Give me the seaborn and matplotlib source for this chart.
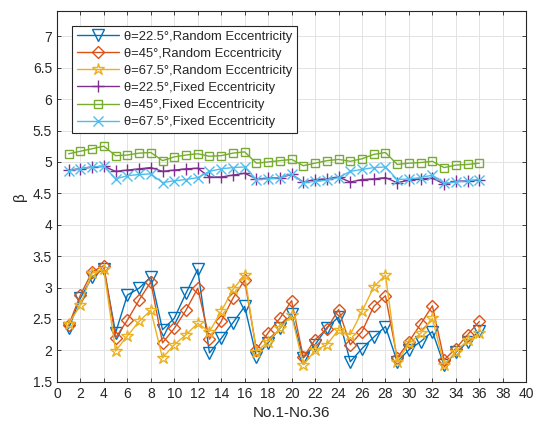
import numpy as np
import pandas as pd
import matplotlib
matplotlib.use("Agg")
import matplotlib.pyplot as plt
import seaborn as sns

# sample index No.1 - No.36
sample_no = list(range(1, 37))

rand_22 = [2.35, 2.83, 3.17, 3.30, 2.28, 2.88, 2.99, 3.17, 2.33, 2.51, 2.91, 3.29,
           1.96, 2.19, 2.44, 2.70, 1.90, 2.12, 2.35, 2.58, 1.88, 2.09, 2.36, 2.53,
           1.82, 2.03, 2.21, 2.38, 1.82, 2.01, 2.14, 2.30, 1.76, 1.97, 2.13, 2.31]
rand_45 = [2.40, 2.88, 3.25, 3.35, 2.20, 2.48, 2.80, 3.09, 2.12, 2.35, 2.64, 2.99,
           2.18, 2.46, 2.83, 3.12, 2.01, 2.28, 2.51, 2.79, 1.89, 2.17, 2.34, 2.65,
           2.09, 2.30, 2.70, 2.87, 1.88, 2.14, 2.42, 2.71, 1.85, 2.03, 2.25, 2.46]
rand_67 = [2.42, 2.72, 3.23, 3.29, 1.99, 2.23, 2.46, 2.64, 1.88, 2.09, 2.25, 2.43,
           2.30, 2.62, 2.97, 3.20, 1.98, 2.14, 2.35, 2.56, 1.77, 2.00, 2.09, 2.33,
           2.25, 2.62, 3.01, 3.20, 1.82, 2.11, 2.27, 2.51, 1.77, 1.98, 2.16, 2.27]
fixed_22 = [4.87, 4.89, 4.92, 4.93, 4.85, 4.87, 4.89, 4.91, 4.85, 4.87, 4.89, 4.90,
            4.76, 4.76, 4.79, 4.82, 4.73, 4.74, 4.75, 4.80, 4.68, 4.72, 4.73, 4.76,
            4.68, 4.72, 4.73, 4.75, 4.67, 4.71, 4.73, 4.74, 4.65, 4.69, 4.70, 4.71]
fixed_45 = [5.13, 5.17, 5.21, 5.25, 5.10, 5.11, 5.14, 5.15, 5.02, 5.08, 5.11, 5.13,
            5.09, 5.10, 5.14, 5.16, 4.98, 5.00, 5.02, 5.04, 4.94, 4.98, 5.02, 5.04,
            5.01, 5.05, 5.12, 5.15, 4.96, 4.98, 4.99, 5.01, 4.91, 4.95, 4.96, 4.98]
fixed_67 = [4.86, 4.89, 4.92, 4.93, 4.73, 4.78, 4.80, 4.81, 4.67, 4.70, 4.72, 4.75,
            4.85, 4.89, 4.91, 4.92, 4.72, 4.73, 4.75, 4.81, 4.67, 4.69, 4.71, 4.75,
            4.85, 4.88, 4.91, 4.92, 4.72, 4.73, 4.75, 4.79, 4.66, 4.68, 4.70, 4.72]

labels = ["θ=22.5°,Random Eccentricity", "θ=45°,Random Eccentricity",
          "θ=67.5°,Random Eccentricity", "θ=22.5°,Fixed Eccentricity",
          "θ=45°,Fixed Eccentricity", "θ=67.5°,Fixed Eccentricity"]
series = [rand_22, rand_45, rand_67, fixed_22, fixed_45, fixed_67]
colors = ["#0072BD", "#D95319", "#EDB120", "#7E2F8E", "#77AC30", "#4DBEEE"]
markers = ["v", "D", "*", "+", "s", "x"]
msizes = [8, 6, 9, 9, 6, 7]

sns.set_style("ticks")
plt.rcParams["font.family"] = ["Liberation Sans", "DejaVu Sans"]

fig = plt.figure(figsize=(5.42, 4.29), dpi=100)
ax = fig.add_axes([0.105, 0.110, 0.866, 0.864])

for vals, lab, c, m, ms in zip(series, labels, colors, markers, msizes):
    df = pd.DataFrame({"x": sample_no, "y": vals})
    sns.lineplot(data=df, x="x", y="y", ax=ax, color=c, marker=m, markersize=ms,
                 markerfacecolor="none", markeredgecolor=c, markeredgewidth=1,
                 linewidth=1, label=lab)

ax.set_xlim(0, 40)
ax.set_ylim(1.5, 7.4)
ax.set_xticks(np.arange(0, 41, 2))
ax.set_yticks(np.arange(1.5, 7.01, 0.5))
ax.set_yticklabels([f"{v:g}" for v in np.arange(1.5, 7.01, 0.5)])
ax.grid(True, color="#e3e3e3", linewidth=0.7)
ax.tick_params(direction="in", top=True, right=True, length=3,
               labelsize=10, colors="#262626", width=0.6)
for sp in ax.spines.values():
    sp.set_color("#262626")
    sp.set_linewidth(0.8)
ax.set_xlabel("No.1-No.36", fontsize=11, color="#262626")
ax.set_ylabel("β", fontsize=11, color="#262626")

leg = ax.legend(loc="upper left", bbox_to_anchor=(0.033, 0.96), fontsize=9.4,
                frameon=True, fancybox=False, framealpha=1, edgecolor="#262626",
                handlelength=3.2, borderpad=0.35, labelspacing=0.38,
                handletextpad=0.4, borderaxespad=0)
leg.get_frame().set_linewidth(0.8)

fig.savefig("out.png", dpi=100)
